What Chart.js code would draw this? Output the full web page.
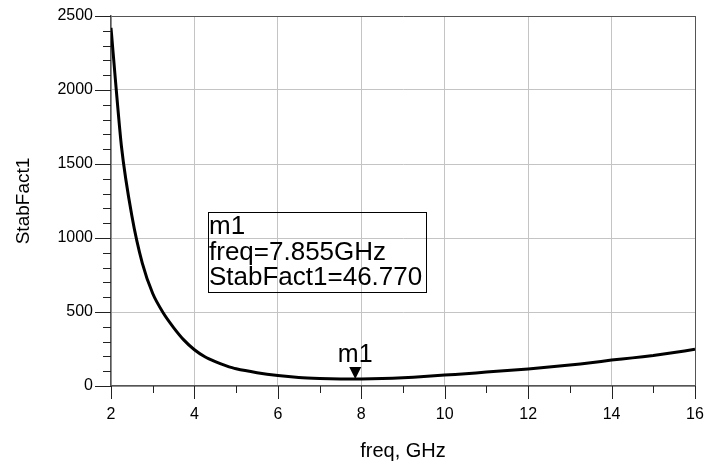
<!DOCTYPE html>
<html>
<head>
<meta charset="utf-8">
<script src="https://cdn.jsdelivr.net/npm/chart.js@4/dist/chart.umd.min.js"></script>
<style>
  html, body { margin: 0; padding: 0; background: #fff; }
  #wrap { width: 704px; height: 469px; position: relative; }
</style>
</head>
<body>
<div id="wrap"><canvas id="c"></canvas></div>
<script>
const freq = [2.0, 2.25, 2.5, 2.75, 3.0, 3.25, 3.5, 3.75, 4.0, 4.25, 4.5, 4.75, 5.0,
  5.5, 6.0, 6.5, 7.0, 7.5, 8.0, 8.5, 9.0, 9.5, 10.0, 10.5, 11.0, 11.5, 12.0,
  12.5, 13.0, 13.5, 14.0, 14.5, 15.0, 15.5, 16.0]
const stabFact1 = [2420, 1620, 1150, 830, 625, 495, 395, 310, 245, 198, 165, 138, 116,
  90, 71, 58, 51, 47, 47, 50, 56, 64, 74, 83, 94, 104, 115,
  128, 142, 157, 175, 190, 206, 226, 248]
const marker = { name: 'm1', freq: 7.855, value: 46.77 }
const markerLines = ['m1', 'freq=7.855GHz', 'StabFact1=46.770']

const FONT = '"Liberation Sans", Arial, sans-serif'
const AXIS = '#555'
const GRID = '#c4c4c4'

// tick marks (major + minor) and the m1 marker, placed through the scales
const decorations = {
  id: 'decorations',
  afterDraw(chart) {
    const { ctx, scales: { x, y }, chartArea: a } = chart
    ctx.save()
    ctx.strokeStyle = '#222'
    ctx.lineWidth = 1
    ctx.beginPath()
    for (let v = 2; v <= 16; v += 1) {
      const px = Math.round(x.getPixelForValue(v)) + 0.5
      const len = v % 2 === 0 ? 13 : 7
      ctx.moveTo(px, a.bottom)
      ctx.lineTo(px, a.bottom + len)
    }
    for (let v = 0; v <= 2500; v += 100) {
      const py = Math.round(y.getPixelForValue(v)) + 0.5
      const len = v % 500 === 0 ? 16 : 8
      ctx.moveTo(a.left, py)
      ctx.lineTo(a.left - len, py)
    }
    ctx.stroke()

    // marker triangle, tip on the trace
    const mx = x.getPixelForValue(marker.freq)
    const my = y.getPixelForValue(marker.value)
    ctx.fillStyle = '#000'
    ctx.beginPath()
    ctx.moveTo(mx, my)
    ctx.lineTo(mx - 6, my - 12)
    ctx.lineTo(mx + 6, my - 12)
    ctx.closePath()
    ctx.fill()
    ctx.font = '25px ' + FONT
    ctx.textAlign = 'center'
    ctx.textBaseline = 'alphabetic'
    ctx.fillText(marker.name, mx, my - 17)

    // readout box
    ctx.strokeStyle = '#000'
    ctx.strokeRect(208.5, 212.5, 218, 80)
    ctx.font = '26px ' + FONT
    ctx.textAlign = 'left'
    markerLines.forEach((t, i) => ctx.fillText(t, 209, 234 + i * 25.5))
    ctx.restore()
  },
}

new Chart(document.getElementById('c'), {
  type: 'line',
  data: {
    datasets: [
      {
        label: 'StabFact1',
        data: freq.map((f, i) => ({ x: f, y: stabFact1[i] })),
        borderColor: '#000',
        borderWidth: 3,
        pointRadius: 0,
        tension: 0.2,
        fill: false,
      },
    ],
  },
  options: {
    responsive: true,
    maintainAspectRatio: false,
    animation: false,
    layout: { padding: { top: 16, right: 9, left: 0, bottom: 0 } },
    plugins: { legend: { display: false }, tooltip: { enabled: false } },
    scales: {
      x: {
        type: 'linear',
        min: 2,
        max: 16,
        afterFit: (s) => {
          s.height = 83
          s.paddingLeft = 0
          s.paddingRight = 0
        },
        ticks: {
          stepSize: 2,
          color: '#000',
          padding: 6,
          maxRotation: 0,
          callback: (v) => String(v),
          font: { family: FONT, size: 16 },
        },
        grid: {
          color: (c) => (c.tick && c.tick.value === 16 ? AXIS : GRID),
          tickLength: 13,
          tickColor: 'transparent',
        },
        border: { color: AXIS, width: 1.5 },
        title: {
          display: true,
          text: 'freq, GHz',
          color: '#000',
          font: { family: FONT, size: 20 },
          padding: { top: 0, bottom: 6 },
        },
      },
      y: {
        min: 0,
        max: 2500,
        afterFit: (s) => {
          s.width = 111
          s.paddingTop = 0
          s.paddingBottom = 0
        },
        ticks: {
          stepSize: 500,
          color: '#000',
          padding: 2,
          callback: (v) => String(v),
          font: { family: FONT, size: 16 },
        },
        grid: {
          color: (c) => (c.tick && c.tick.value === 2500 ? AXIS : GRID),
          tickLength: 16,
          tickColor: 'transparent',
        },
        border: { color: AXIS, width: 1.5 },
        title: {
          display: true,
          text: 'StabFact1',
          color: '#000',
          font: { family: FONT, size: 19 },
          padding: { top: 12, bottom: 0 },
        },
      },
    },
  },
  plugins: [decorations],
})
</script>
</body>
</html>
